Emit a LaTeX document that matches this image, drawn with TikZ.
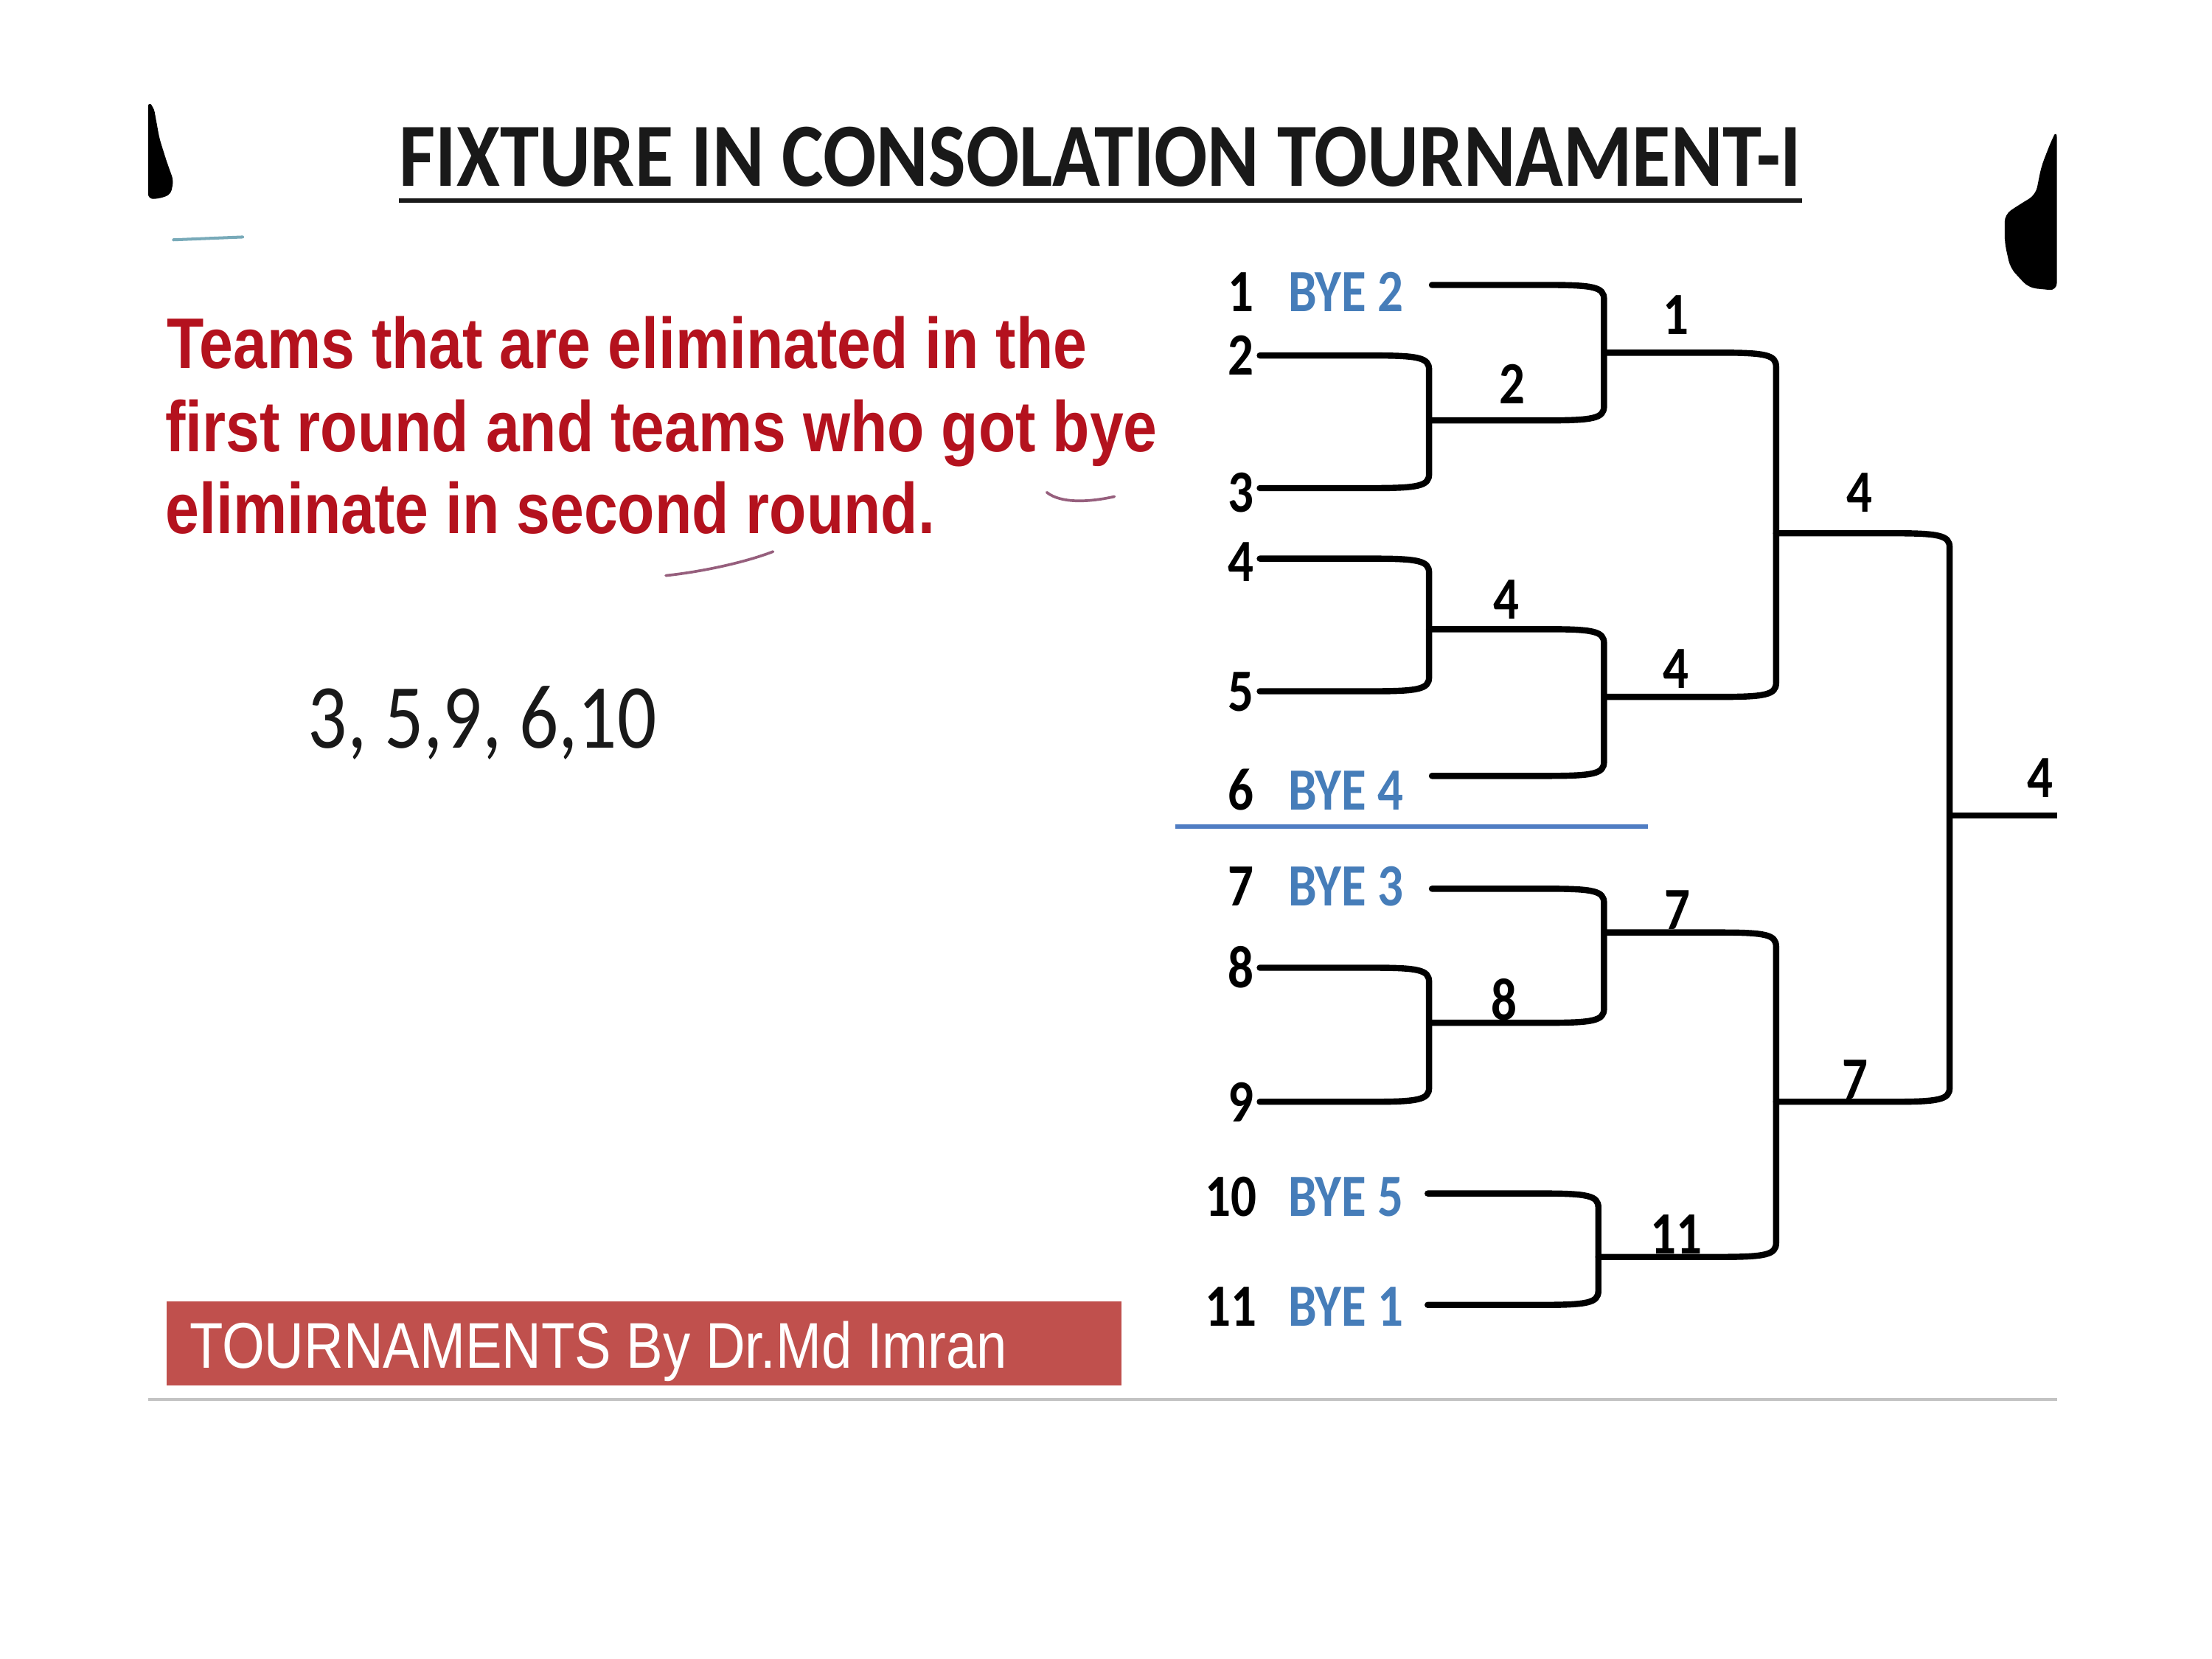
\documentclass[tikz,border=0pt]{standalone}
\usepackage{fontspec}
\setmainfont{Carlito}
\newfontfamily\arialf{Liberation Sans}
\usetikzlibrary{calc}
\definecolor{titlecol}{RGB}{25,25,25}
\definecolor{redtext}{RGB}{180,18,30}
\definecolor{byeblue}{RGB}{70,125,185}
\definecolor{sepblue}{RGB}{80,125,195}
\definecolor{boxred}{RGB}{192,80,77}
\definecolor{rulegray}{RGB}{195,195,195}
\definecolor{penpink}{RGB}{150,95,125}
\definecolor{penteal}{RGB}{120,170,185}
\newcommand\vs[1]{\scalebox{1}[1.18]{#1}}
\newcommand\brk[3]{%
  \draw[bline] (#1) -- ([xshift=-0.8cm]#1 -| #3)
    .. controls ([xshift=-0.15cm]#1 -| #3) and ([yshift=-0.03cm]#1 -| #3) .. ([yshift=-0.2cm]#1 -| #3)
    -- ([yshift=0.2cm]#2 -| #3)
    .. controls ([yshift=0.03cm]#2 -| #3) and ([xshift=-0.15cm]#2 -| #3) .. ([xshift=-0.8cm]#2 -| #3)
    -- (#2);}
\tikzset{
  bline/.style={line width=2.5pt, black, line cap=round, line join=round},
  numlab/.style={inner sep=0pt, anchor=base east, font=\bfseries\fontsize{20.5pt}{24pt}\selectfont},
  byelab/.style={inner sep=0pt, anchor=base west, text=byeblue, font=\bfseries\fontsize{20.5pt}{24pt}\selectfont},
  winlab/.style={inner sep=0pt, anchor=base, font=\bfseries\fontsize{20.5pt}{24pt}\selectfont},
  redline/.style={inner sep=0pt, anchor=base west, text=redtext, font=\arialf\bfseries\fontsize{24.5pt}{28pt}\selectfont},
}
\begin{document}
\begin{tikzpicture}[x=0.02cm,y=-0.02cm]
\useasboundingbox (0,0) rectangle (1568,1176);
% edge blobs
\fill[black, rounded corners=2pt] (105,72) -- (109,76) -- (113,98) -- (118,114) -- (123,128) -- (121,138) -- (112,141) -- (105,141) -- cycle;
\fill[black, rounded corners=3pt] (1458,92) -- (1454,100) -- (1447,118) -- (1443,138) -- (1430,146) -- (1421,152) -- (1421,172) -- (1425,190) -- (1438,204) -- (1458,206) -- cycle;
\coordinate (tl1) at (123,170); \coordinate (tl2) at (172,168);
\draw[penteal, line width=1.2pt, line cap=round] (tl1) -- (tl2);
% title
\node[inner sep=0pt, text=titlecol] (title) at (780,111) {\resizebox{19.88cm}{0.84cm}{\bfseries FIXTURE IN CONSOLATION TOURNAMENT-I}};
\draw[titlecol, line width=1.8pt] ([yshift=-0.19cm]title.south west) -- ([yshift=-0.19cm]title.south east);
% red text
\node[redline] (t1) at (118,261) {\vs{Teams that are eliminated in the}};
\node[redline] (t2) at (117,320) {\vs{first round and teams who got bye}};
\node[redline] (t3) at (117,378) {\vs{eliminate in second round.}};
\coordinate (pm1) at (742,349); \coordinate (pm2) at (790,352);
\draw[penpink, line width=1.1pt, line cap=round] (pm1) .. controls (752,357) and (772,356) .. (pm2);
\coordinate (pm3) at (472,408); \coordinate (pm4) at (548,391);
\draw[penpink, line width=1.1pt, line cap=round] (pm3) .. controls (500,405) and (530,398) .. (pm4);
% list
\node[inner sep=0pt, anchor=base west, text=titlecol, font=\fontsize{31.3pt}{36pt}\selectfont] (list) at (218,530) {\vs{3, 5,9, 6,10}};
% row labels
\node[numlab] (n1) at (889,221) {\vs{1}};
\node[numlab] (n2) at (889,266) {\vs{2}};
\node[numlab] (n3) at (889,363) {\vs{3}};
\node[numlab] (n4) at (889,412) {\vs{4}};
\node[numlab] (n5) at (889,504) {\vs{5}};
\node[numlab] (n6) at (889,574) {\vs{6}};
\node[numlab] (n7) at (889,642) {\vs{7}};
\node[numlab] (n8) at (889,700) {\vs{8}};
\node[numlab] (n9) at (889,795) {\vs{9}};
\node[numlab] (n10) at (891,862) {\vs{10}};
\node[numlab] (n11) at (891,940) {\vs{11}};
\node[byelab] (b1) at (913,221) {\vs{BYE 2}};
\node[byelab] (b6) at (913,574) {\vs{BYE 4}};
\node[byelab] (b7) at (913,642) {\vs{BYE 3}};
\node[byelab] (b10) at (913,862) {\vs{BYE 5}};
\node[byelab] (b11) at (913,940) {\vs{BYE 1}};
% separator
\coordinate (s1) at (833,586); \coordinate (s2) at (1168,586);
\draw[sepblue, line width=1.7pt] (s1) -- (s2);
% arm starts
\coordinate (r1) at (1015,202);
\coordinate (r2) at (893,252);
\coordinate (r3) at (893,346);
\coordinate (r4) at (893,396);
\coordinate (r5) at (893,490);
\coordinate (r6) at (1015,550);
\coordinate (r7) at (1015,630);
\coordinate (r8) at (893,686);
\coordinate (r9) at (893,781);
\coordinate (r10) at (1012,846);
\coordinate (r11) at (1012,925);
% match outputs
\coordinate (oA) at (1013,298);
\coordinate (oB) at (1137,250);
\coordinate (oC) at (1013,446);
\coordinate (oD) at (1137,494);
\coordinate (oE) at (1259,378);
\coordinate (oG) at (1013,725);
\coordinate (oH) at (1137,661);
\coordinate (oI) at (1133,891);
\coordinate (oJ) at (1259,781);
\coordinate (oF) at (1382,578);
\coordinate (fin) at (1458,578);
\brk{r2}{r3}{oA}
\brk{r1}{oA}{oB}
\brk{r4}{r5}{oC}
\brk{oC}{r6}{oD}
\brk{oB}{oD}{oE}
\brk{r8}{r9}{oG}
\brk{r7}{oG}{oH}
\brk{r10}{r11}{oI}
\brk{oH}{oI}{oJ}
\brk{oE}{oJ}{oF}
\draw[bline, line cap=butt] (oF) -- (fin);
% winner labels
\node[winlab] (wA) at (1072,286) {\vs{2}};
\node[winlab] (wB) at (1188,237) {\vs{1}};
\node[winlab] (wC) at (1068,439) {\vs{4}};
\node[winlab] (wD) at (1188,488) {\vs{4}};
\node[winlab] (wE) at (1318,363) {\vs{4}};
\node[winlab] (wF) at (1446,565) {\vs{4}};
\node[winlab] (wG) at (1066,723) {\vs{8}};
\node[winlab] (wH) at (1189,659) {\vs{7}};
\node[winlab] (wI) at (1188,889) {\vs{11}};
\node[winlab] (wJ) at (1315,779) {\vs{7}};
% footer
\node[fill=boxred, minimum width=13.54cm, minimum height=1.2cm, anchor=north west, inner sep=0pt] (box) at (118,922) {};
\node[inner sep=0pt, anchor=base west, text=white, font=\arialf\fontsize{22.1pt}{26pt}\selectfont] (boxtxt) at (134,970) {\vs{TOURNAMENTS By Dr.Md Imran}};
\coordinate (g1) at (105,992); \coordinate (g2) at (1458,992);
\draw[rulegray, line width=1.3pt] (g1) -- (g2);
\end{tikzpicture}
\end{document}
